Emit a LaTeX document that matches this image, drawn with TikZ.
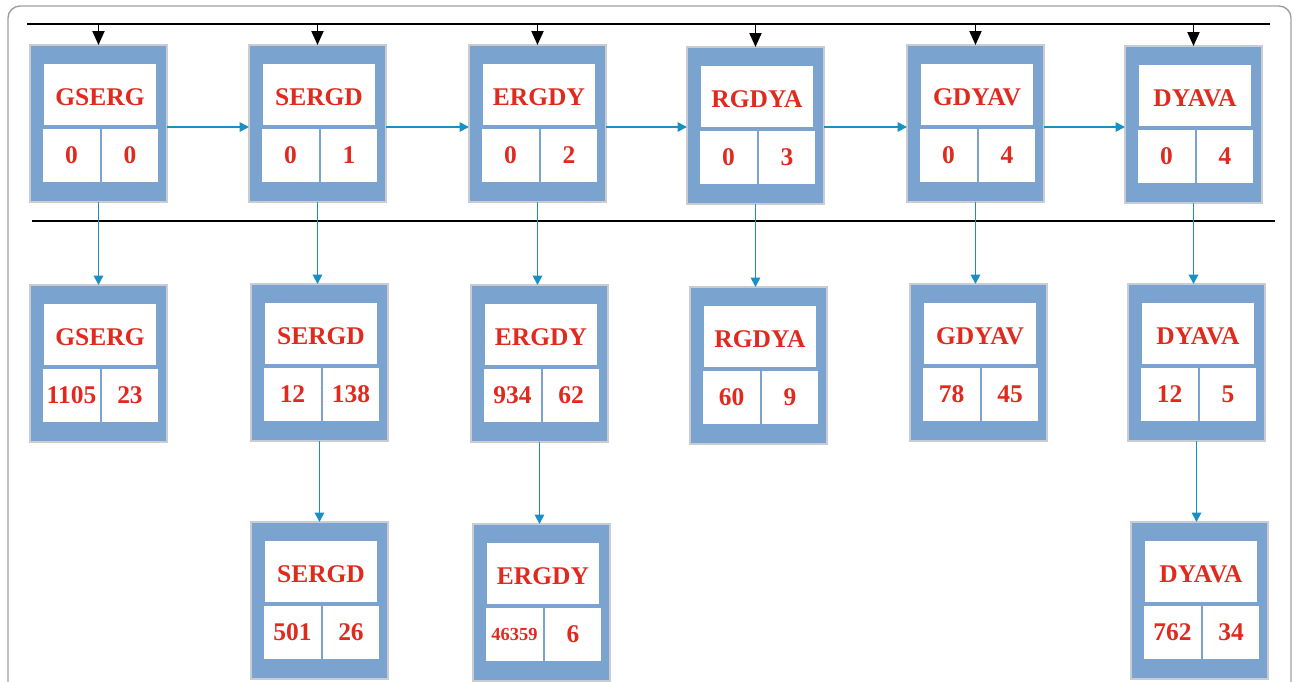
\documentclass[tikz,border=0pt]{standalone}
\usepackage{fontspec}
\setmainfont{Liberation Serif}
\usetikzlibrary{calc,arrows.meta}

\definecolor{boxblue}{HTML}{7BA3CF}
\definecolor{rimgray}{HTML}{C9CDD3}
\definecolor{seqred}{HTML}{E02A1E}
\definecolor{linkblue}{HTML}{1A8FC2}

% one k-mer record: name, top-left corner, title, left and right counts
\newcommand{\kmerbox}[6]{%
  \node[kbox] (#1) at (#2,#3) {};
  \node[ktitle] (#1-t) at ($(#1.north west)+(14,19)$) {#4};
  \node[kcell, minimum width=1.14cm] (#1-l) at ($(#1.north west)+(13,84)$) {#5};
  \node[kcell, minimum width=1.12cm] (#1-r) at ($(#1.north west)+(72,84)$) {#6};
  \coordinate (#1-c) at ($(#1.north west)+(0,82)$);
}

\begin{document}
\begin{tikzpicture}[x=0.02cm, y=-0.02cm,
	kbox/.style={anchor=north west, draw=rimgray, line width=0.6pt, fill=boxblue,
		minimum width=2.74cm, minimum height=3.14cm, inner sep=0pt, outer sep=0pt},
	ktitle/.style={anchor=north west, fill=white, minimum width=2.24cm, minimum height=1.22cm,
		inner sep=0pt, outer sep=0pt, text height=0.42cm, text depth=0cm,
		text=seqred, font=\fontsize{14.5}{16}\selectfont\bfseries},
	kcell/.style={anchor=north west, fill=white, minimum height=1.06cm,
		inner sep=0pt, outer sep=0pt, text=seqred, font=\fontsize{14.5}{16}\selectfont\bfseries},
	link/.style={draw=linkblue, line width=1pt, -{Triangle[length=0.19cm,width=0.19cm]}},
	feed/.style={draw=black, line width=1.1pt, -{Triangle[length=0.28cm,width=0.24cm]}},
	rule/.style={draw=black, line width=1.1pt}]
	\path[use as bounding box, clip] (0,0) rectangle (1294,681);

	% outer frame, cut at the bottom
	\draw[gray!75, line width=0.8pt, rounded corners=0.24cm] (8,6) rectangle (1291,720);

	% first row
	\kmerbox{b1}{30}{45}{GSERG}{0}{0}
	\kmerbox{b2}{249}{45}{SERGD}{0}{1}
	\kmerbox{b3}{469}{45}{ERGDY}{0}{2}
	\kmerbox{b4}{687}{47}{RGDYA}{0}{3}
	\kmerbox{b5}{907}{45}{GDYAV}{0}{4}
	\kmerbox{b6}{1125}{46}{DYAVA}{0}{4}

	% second row
	\kmerbox{c1}{30}{285}{GSERG}{1105}{23}
	\kmerbox{c2}{251}{284}{SERGD}{12}{138}
	\kmerbox{c3}{471}{285}{ERGDY}{934}{62}
	\kmerbox{c4}{690}{287}{RGDYA}{60}{9}
	\kmerbox{c5}{910}{284}{GDYAV}{78}{45}
	\kmerbox{c6}{1128}{284}{DYAVA}{12}{5}

	% third row
	\kmerbox{d2}{251}{522}{SERGD}{501}{26}
	\kmerbox{d3}{473}{524}{ERGDY}{{\fontsize{10.5}{12}\selectfont 46359}}{6}
	\kmerbox{d6}{1131}{522}{DYAVA}{762}{34}

	% black rules
	\coordinate (top-l) at (27,24);
	\coordinate (top-r) at (1270,24);
	\coordinate (mid-l) at (32,221);
	\coordinate (mid-r) at (1275,221);
	\draw[rule] (top-l) -- (top-r);
	\draw[rule] (mid-l) -- (mid-r);

	% feeds from the top rule
	\draw[feed] (b1.north |- top-l) -- (b1.north);
	\draw[feed] (b2.north |- top-l) -- (b2.north);
	\draw[feed] (b3.north |- top-l) -- (b3.north);
	\draw[feed] (b4.north |- top-l) -- (b4.north);
	\draw[feed] (b5.north |- top-l) -- (b5.north);
	\draw[feed] (b6.north |- top-l) -- (b6.north);

	% chain along the first row
	\draw[link] (b1.east |- b1-c) -- (b2.west |- b1-c);
	\draw[link] (b2.east |- b2-c) -- (b3.west |- b2-c);
	\draw[link] (b3.east |- b3-c) -- (b4.west |- b3-c);
	\draw[link] (b4.east |- b3-c) -- (b5.west |- b3-c);
	\draw[link] (b5.east |- b5-c) -- (b6.west |- b5-c);

	% downward links
	\draw[link] (b1.south) -- (b1.south |- c1.north);
	\draw[link] (b2.south) -- (b2.south |- c2.north);
	\draw[link] (b3.south) -- (b3.south |- c3.north);
	\draw[link] (b4.south) -- (b4.south |- c4.north);
	\draw[link] (b5.south) -- (b5.south |- c5.north);
	\draw[link] (b6.south) -- (b6.south |- c6.north);
	\draw[link] (c2.south) -- (c2.south |- d2.north);
	\draw[link] (c3.south) -- (c3.south |- d3.north);
	\draw[link] (c6.south) -- (c6.south |- d6.north);

\end{tikzpicture}
\end{document}
